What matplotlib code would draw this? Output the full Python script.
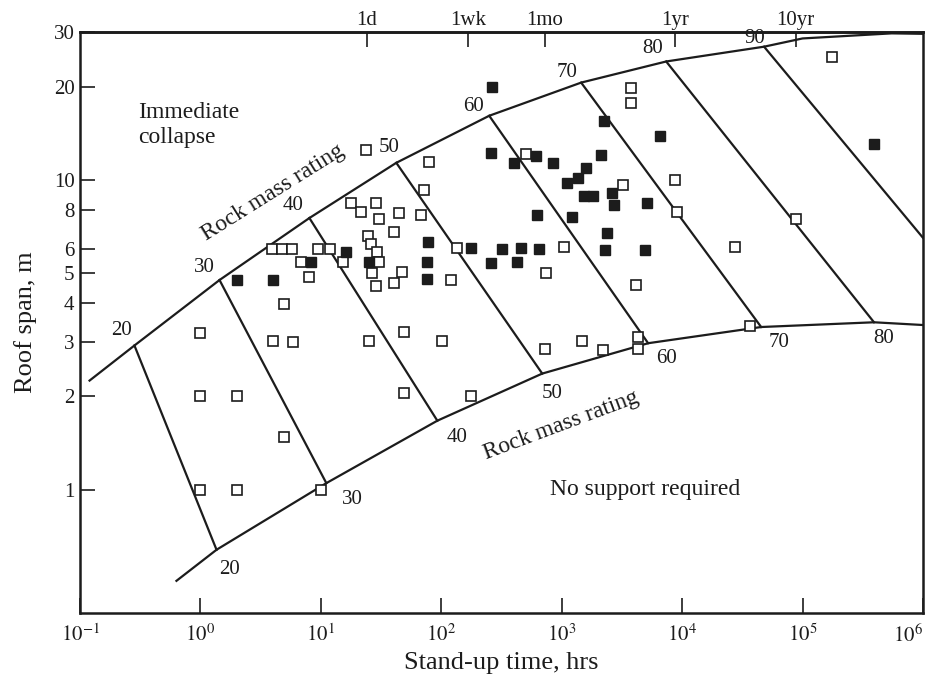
"""Stand-up time vs roof span chart with rock mass rating (RMR) bands."""
import matplotlib

matplotlib.use("Agg")
import matplotlib.pyplot as plt
from matplotlib.ticker import NullLocator

plt.rcParams["font.family"] = ["Liberation Serif", "DejaVu Serif"]
plt.rcParams["mathtext.fontset"] = "stix"

INK = "#1c1c1c"

# boundary curves: stand-up time (hrs), roof span (m)
upper_rmr = [20, 30, 40, 50, 60, 70, 80, 90]
upper_time = [0.283, 1.44, 8.03, 42.3, 250, 1450, 7370, 47900]
upper_span = [2.92, 4.75, 7.53, 11.35, 16.1, 20.6, 24.1, 26.9]
upper_head = (0.12, 2.25)
upper_tail_time = [1.0e5, 5.5e5, 1.0e6]
upper_tail_span = [28.6, 29.7, 29.6]

lower_rmr = [20, 30, 40, 50, 60, 70, 80]
lower_time = [1.36, 11.1, 92.7, 689, 5220, 45300, 392000]
lower_span = [0.64, 1.05, 1.67, 2.37, 2.97, 3.35, 3.47]
lower_head = (0.632, 0.508)
lower_tail = (1.0e6, 3.40)

rmr90_end = (1.0e6, 6.5)

# case histories
open_time = [1.0, 1.0, 2.0, 1.0, 2.0, 4.9, 10, 4.0, 5.9, 4.9, 8.0, 3.96, 4.8, 5.8,
             6.9, 9.4, 12, 15.4, 23.9, 17.9, 21.7, 28.9, 30.6, 44.8, 68, 72, 79,
             24.8, 26.2, 29.4, 30.6, 26.8, 28.9, 40.7, 47.5, 40.7, 136, 121, 744,
             1050, 508, 49, 102, 25.3, 730, 1480, 2210, 49, 177, 4150, 4310, 4310,
             36700, 27500, 3770, 3770, 3240, 8740, 9100, 88300, 176000]
open_span = [3.2, 2.0, 2.0, 1.0, 1.0, 1.48, 1.0, 3.03, 3.0, 3.97, 4.85, 6.0, 6.0, 6.0,
             5.45, 6.0, 6.0, 5.43, 12.5, 8.4, 7.9, 8.4, 7.5, 7.8, 7.7, 9.3, 11.4,
             6.6, 6.2, 5.85, 5.43, 5.0, 4.54, 4.64, 5.04, 6.79, 6.03, 4.75, 5.0,
             6.07, 12.1, 3.22, 3.03, 3.01, 2.84, 3.03, 2.82, 2.05, 2.01, 4.57, 3.1, 2.84,
             3.37, 6.05, 19.8, 17.7, 9.6, 10.0, 7.9, 7.5, 25]

solid_time = [2.0, 4.0, 8.3, 16.3, 25.3, 78, 76.5, 76.5, 265, 260, 403, 614, 850,
              626, 177, 321, 461, 650, 260, 427, 2130, 2250, 6560, 1600, 1370, 1110,
              1540, 1820, 2630, 2730, 5130, 1220, 2390, 2300, 4930, 392000]
solid_span = [4.75, 4.75, 5.43, 5.85, 5.43, 6.3, 5.43, 4.8, 20, 12.2, 11.3, 11.9, 11.35,
              7.7, 6.03, 6.0, 6.03, 6.0, 5.4, 5.43, 12.05, 15.5, 13.9, 10.9, 10.15, 9.8,
              8.9, 8.9, 9.1, 8.3, 8.4, 7.6, 6.75, 5.94, 5.94, 13.1]

x_ticks = [1e-1, 1e0, 1e1, 1e2, 1e3, 1e4, 1e5, 1e6]
x_labels = [r"$10^{-1}$", r"$10^{0}$", r"$10^{1}$", r"$10^{2}$", r"$10^{3}$",
            r"$10^{4}$", r"$10^{5}$", r"$10^{6}$"]
y_ticks = [1, 2, 3, 4, 5, 6, 8, 10, 20, 30]
top_ticks = [24, 168, 720, 8760, 87600]
top_labels = ["1d", "1wk", "1mo", "1yr", "10yr"]

fig = plt.figure(figsize=(9.36, 6.84), dpi=100)
ax = fig.add_axes([0.0855, 0.1038, 0.9006, 0.8494])
ax.set_xscale("log")
ax.set_yscale("log")

# boundary curves
ax.plot([upper_head[0]] + upper_time + upper_tail_time,
        [upper_head[1]] + upper_span + upper_tail_span,
        color=INK, lw=1.6, zorder=2)
ax.plot([lower_head[0]] + lower_time + [lower_tail[0]],
        [lower_head[1]] + lower_span + [lower_tail[1]],
        color=INK, lw=1.6, zorder=2)

# RMR bands
for i, r in enumerate(lower_rmr):
    j = upper_rmr.index(r)
    ax.plot([upper_time[j], lower_time[i]], [upper_span[j], lower_span[i]],
            color=INK, lw=1.6, zorder=2)
ax.plot([upper_time[-1], rmr90_end[0]], [upper_span[-1], rmr90_end[1]],
        color=INK, lw=1.6, zorder=2)

# RMR labels (offsets in points from the band junctions)
up_off = [(-9, 11), (-11, 9), (-12, 9), (-5, 11), (-11, 7), (-10, 7), (-10, 9), (-7, 6)]
lo_off = [(9, -14), (19, -12), (14, -12), (7, -14), (13, -11), (13, -11), (7, -12)]
for r, t, s, o in zip(upper_rmr, upper_time, upper_span, up_off):
    ax.annotate(str(r), (t, s), xytext=o, textcoords="offset points",
                ha="center", va="center", fontsize=15, color=INK)
for r, t, s, o in zip(lower_rmr, lower_time, lower_span, lo_off):
    ax.annotate(str(r), (t, s), xytext=o, textcoords="offset points",
                ha="center", va="center", fontsize=15, color=INK)

ax.plot(open_time, open_span, "s", ms=7, mfc="white", mec=INK, mew=1.2,
        ls="none", zorder=3)
ax.plot(solid_time, solid_span, "s", ms=7, mfc=INK, mec=INK, mew=1.0,
        ls="none", zorder=3)

ax.text(0.0688, 0.84, "Immediate\ncollapse", transform=ax.transAxes,
        ha="left", va="center", fontsize=17, linespacing=1.3, color=INK)
ax.text(0.670, 0.212, "No support required", transform=ax.transAxes,
        ha="center", va="center", fontsize=17, color=INK)
ax.text(0.229, 0.723, "Rock mass rating", transform=ax.transAxes, rotation=32,
        rotation_mode="anchor", ha="center", va="center", fontsize=17, color=INK)
ax.text(0.571, 0.322, "Rock mass rating", transform=ax.transAxes, rotation=20.5,
        rotation_mode="anchor", ha="center", va="center", fontsize=17, color=INK)

ax.set_xlim(0.1, 1e6)
ax.set_ylim(0.4, 30)
ax.set_xticks(x_ticks, labels=x_labels)
ax.set_yticks(y_ticks, labels=[str(v) for v in y_ticks])
ax.xaxis.set_minor_locator(NullLocator())
ax.yaxis.set_minor_locator(NullLocator())
ax.tick_params(axis="x", direction="in", length=11, width=1.2, labelsize=15,
               pad=8, colors=INK)
ax.tick_params(axis="y", direction="in", length=11, width=1.2, labelsize=15,
               pad=4, colors=INK)
# keep the last bottom label inside the figure
ax.get_xticklabels()[-1].set_horizontalalignment("right")
for sp in ax.spines.values():
    sp.set_linewidth(1.8)
    sp.set_color(INK)

top = ax.secondary_xaxis("top")
top.set_xticks(top_ticks, labels=top_labels)
top.xaxis.set_minor_locator(NullLocator())
top.tick_params(direction="in", length=11, width=1.2, labelsize=15, pad=1.5,
                colors=INK)
top.spines["top"].set_linewidth(1.8)

ax.set_xlabel("Stand-up time, hrs", fontsize=19, color=INK, labelpad=4)
ax.set_ylabel("Roof span, m", fontsize=19, color=INK, labelpad=12)

fig.savefig("out.png", dpi=100)
